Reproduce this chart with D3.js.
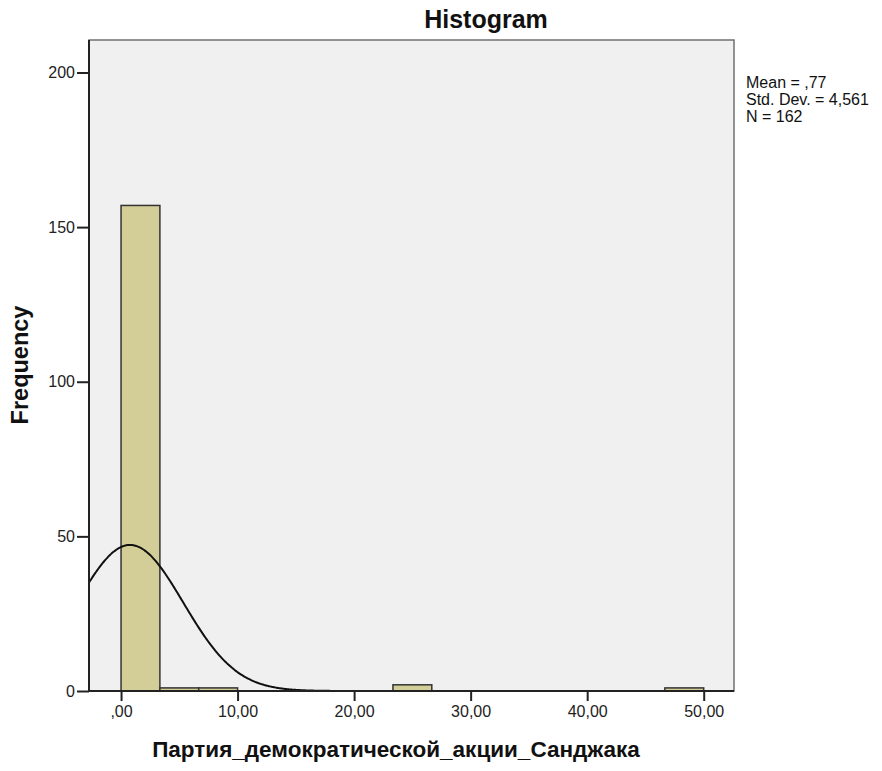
<!DOCTYPE html>
<html><head><meta charset="utf-8">
<script src="https://cdn.jsdelivr.net/npm/d3@7"></script>
<style>body{margin:0;background:#fff;} svg{display:block;}</style>
</head><body>
<script>
// Data
const binStarts = [0, 3.3333, 6.6667, 23.3333, 46.6667];
const binEnds   = [3.3333, 6.6667, 10, 26.6667, 50];
const counts    = [157, 1, 1, 2, 1];
const xTicks = [0, 10, 20, 30, 40, 50];
const yTicks = [0, 50, 100, 150, 200];
const statLabels = ["Mean = ,77", "Std. Dev. = 4,561", "N = 162"];
const meanVal = 0.77, sdVal = 4.561, nVal = 162, binWidth = 50/15;

const W = 882, H = 771;
const plot = {l: 89, r: 734, t: 40, b: 691};
const svg = d3.select("body").append("svg").attr("width", W).attr("height", H);
const font = "'Liberation Sans', Arial, sans-serif";

const x = d3.scaleLinear().domain([-2.75, 52.6]).range([plot.l, plot.r]);
const y = d3.scaleLinear().domain([0, 210.5]).range([plot.b, plot.t]);

// plot background
svg.append("rect").attr("x", plot.l).attr("y", plot.t)
  .attr("width", plot.r - plot.l).attr("height", plot.b - plot.t)
  .attr("fill", "#f0f0f0").attr("stroke", "#707070").attr("stroke-width", 1.5);

// bars
const bars = binStarts.map((s, i) => ({s, e: binEnds[i], c: counts[i]}));
svg.append("g").selectAll("rect").data(bars).join("rect")
  .attr("x", d => x(d.s)).attr("y", d => y(d.c))
  .attr("width", d => x(d.e) - x(d.s)).attr("height", d => y(0) - y(d.c))
  .attr("fill", "#d3ce97").attr("stroke", "#333").attr("stroke-width", 1.5);

// normal curve
const xs = d3.range(-2.75, 52.6, 0.1);
const dens = v => nVal * binWidth / (sdVal * Math.sqrt(2*Math.PI)) * Math.exp(-0.5*Math.pow((v-meanVal)/sdVal, 2));
svg.append("path").datum(xs)
  .attr("d", d3.line().x(v => x(v)).y(v => y(dens(v))).curve(d3.curveBasis))
  .attr("fill", "none").attr("stroke", "#111").attr("stroke-width", 2);

// axes
const fmt = v => (v === 0 ? "" : String(v)) + ",00";
const xAxis = svg.append("g").attr("transform", `translate(0,${plot.b})`)
  .call(d3.axisBottom(x).tickValues(xTicks).tickFormat(fmt).tickSize(10).tickPadding(5));
const yAxis = svg.append("g").attr("transform", `translate(${plot.l},0)`)
  .call(d3.axisLeft(y).tickValues(yTicks).tickSize(12).tickPadding(2));
[xAxis, yAxis].forEach(g => {
  g.select(".domain").attr("stroke", "#222").attr("stroke-width", 2);
  g.selectAll(".tick line").attr("stroke", "#222").attr("stroke-width", 2);
  g.selectAll(".tick text").attr("fill", "#222").style("font-family", font).style("font-size", "16px");
});
xAxis.select(".domain").attr("d", `M${plot.l},0H${plot.r}`);
yAxis.select(".domain").attr("d", `M0,${plot.t}V${plot.b}`);

// title
svg.append("text").attr("x", 486).attr("y", 28).attr("text-anchor", "middle")
  .style("font-family", font).style("font-weight", "bold").style("font-size", "25px")
  .attr("fill", "#111").text("Histogram");

// x label
svg.append("text").attr("x", 396).attr("y", 757).attr("text-anchor", "middle")
  .style("font-family", font).style("font-weight", "bold").style("font-size", "22.5px")
  .attr("fill", "#111").text("Партия_демократической_акции_Санджака");

// y label
svg.append("text").attr("transform", "translate(28,365) rotate(-90)").attr("text-anchor", "middle")
  .style("font-family", font).style("font-weight", "bold").style("font-size", "23.5px")
  .attr("fill", "#111").text("Frequency");

// stats
svg.append("g").selectAll("text").data(statLabels).join("text")
  .attr("x", 746).attr("y", (d, i) => 88 + i * 17)
  .style("font-family", font).style("font-size", "16px").attr("fill", "#111")
  .text(d => d);
</script>
</body></html>
